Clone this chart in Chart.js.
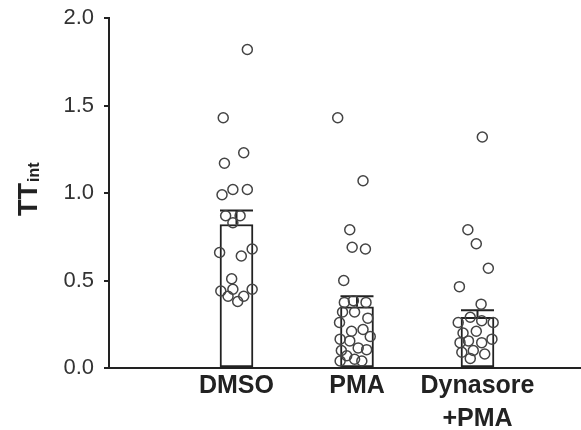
<!DOCTYPE html>
<html lang="en">
<head>
  <meta charset="UTF-8">
  <title>TT int</title>
  <script src="https://cdn.jsdelivr.net/npm/chart.js"></script>
  <style>
    html, body { margin: 0; padding: 0; background: #fff; overflow: hidden; }
    canvas { display: block; }
  </style>
</head>
<body>
  <canvas id="ttChart" width="581" height="430"></canvas>

  <script>
    // categories and bar values
    const groups = [['DMSO'], ['PMA'], ['Dynasore', '+PMA']];
    const means = [0.82, 0.35, 0.29];
    const errors = [0.08, 0.06, 0.04];
    const yTicks = [0, 0.5, 1.0, 1.5, 2.0];

    // individual points: offset from group centre, value
    const dmsoX = [0.09, -0.11, 0.06, -0.10, -0.12, -0.03, 0.09, -0.09, 0.03, -0.03, -0.14, 0.13, 0.04, -0.04, -0.03, -0.13, 0.13, -0.07, 0.06, 0.01];
    const dmsoY = [1.82, 1.43, 1.23, 1.17, 0.99, 1.02, 1.02, 0.87, 0.87, 0.83, 0.66, 0.68, 0.64, 0.51, 0.45, 0.44, 0.45, 0.41, 0.41, 0.38];
    const pmaX = [-0.16, 0.05, -0.06, -0.04, 0.07, -0.11, -0.105, -0.03, 0.075, -0.12, -0.02, 0.09, -0.145, -0.045, 0.05, 0.11, -0.14, -0.06, 0.01, -0.13, 0.08, -0.085, -0.02, -0.14, 0.04];
    const pmaY = [1.43, 1.07, 0.79, 0.69, 0.68, 0.50, 0.375, 0.385, 0.375, 0.32, 0.32, 0.285, 0.26, 0.21, 0.22, 0.18, 0.165, 0.155, 0.115, 0.10, 0.105, 0.07, 0.05, 0.04, 0.04];
    const dynX = [0.04, -0.08, -0.01, 0.09, -0.15, 0.03, -0.06, -0.16, 0.035, 0.13, -0.12, -0.01, 0.12, -0.075, 0.035, -0.13, -0.035, 0.06, -0.06, -0.145];
    const dynY = [1.32, 0.79, 0.71, 0.57, 0.465, 0.365, 0.29, 0.26, 0.27, 0.26, 0.20, 0.21, 0.165, 0.155, 0.145, 0.09, 0.10, 0.08, 0.055, 0.145];

    const fontFamily = '"Liberation Sans", Arial, Helvetica, sans-serif';

    const points = [];
    [[dmsoX, dmsoY], [pmaX, pmaY], [dynX, dynY]].forEach(([xs, ys], g) => {
      xs.forEach((dx, i) => points.push({ x: g + 1 + dx, y: ys[i] }));
    });

    // error bars (upper only) drawn right after the bars
    const errorBars = {
      id: 'errorBars',
      afterDatasetDraw(chart, args) {
        if (args.index !== 0) return;
        const { ctx, scales: { x, y } } = chart;
        ctx.save();
        ctx.strokeStyle = '#222';
        ctx.lineWidth = 2;
        means.forEach((m, i) => {
          const px = x.getPixelForValue(i + 1);
          const y0 = y.getPixelForValue(m);
          const y1 = y.getPixelForValue(m + errors[i]);
          ctx.beginPath();
          ctx.moveTo(px, y0);
          ctx.lineTo(px, y1);
          ctx.moveTo(px - 16.5, y1);
          ctx.lineTo(px + 16.5, y1);
          ctx.stroke();
        });
        ctx.restore();
      }
    };

    // y title with subscript, and the x axis line carried to the edge
    const yTitle = {
      id: 'yTitle',
      afterDraw(chart) {
        const ctx = chart.ctx;
        const a = chart.chartArea;
        ctx.save();
        ctx.strokeStyle = '#222';
        ctx.lineWidth = 2;
        ctx.beginPath();
        ctx.moveTo(a.right - 1, a.bottom);
        ctx.lineTo(chart.width, a.bottom);
        ctx.stroke();
        ctx.restore();

        ctx.save();
        ctx.translate(37, 216);
        ctx.rotate(-Math.PI / 2);
        ctx.fillStyle = '#222';
        ctx.textBaseline = 'alphabetic';
        ctx.textAlign = 'left';
        ctx.font = 'bold 27px ' + fontFamily;
        ctx.fillText('TT', 0, 0);
        const w = ctx.measureText('TT').width;
        ctx.font = 'bold 16px ' + fontFamily;
        ctx.fillText('int', w + 1, 2);
        ctx.restore();
      }
    };

    new Chart(document.getElementById('ttChart'), {
      type: 'bar',
      data: {
        datasets: [{
          data: means.map((m, i) => ({ x: i + 1, y: m })),
          backgroundColor: '#fff',
          borderColor: '#222',
          borderWidth: 2,
          borderSkipped: false,
          barThickness: 33,
          order: 2
        }, {
          type: 'line',
          data: points,
          showLine: false,
          pointRadius: 5,
          pointBorderWidth: 1.5,
          pointBorderColor: '#444',
          pointBackgroundColor: 'rgba(0,0,0,0)',
          order: 1
        }]
      },
      options: {
        responsive: false,
        animation: false,
        layout: { padding: { top: 18, right: 0, left: 0, bottom: 0 } },
        plugins: { legend: { display: false }, tooltip: { enabled: false } },
        scales: {
          x: {
            type: 'linear',
            min: -0.058,
            max: 3.805,
            offset: false,
            afterBuildTicks: axis => { axis.ticks = [1, 2, 3].map(v => ({ value: v })); },
            afterFit: axis => {
              axis.height = 62;
              axis.paddingLeft = 0;
              axis.paddingRight = 0;
            },
            grid: { display: false, offset: false },
            border: { display: true, color: '#222', width: 2 },
            ticks: {
              autoSkip: false,
              maxRotation: 0,
              padding: -6,
              color: '#222',
              font: { family: fontFamily, size: 25, weight: 'bold', lineHeight: 1.3 },
              callback: v => groups[v - 1] || ''
            }
          },
          y: {
            min: 0,
            max: 2,
            afterBuildTicks: axis => { axis.ticks = yTicks.map(v => ({ value: v })); },
            afterFit: axis => {
              axis.width = 109;
              axis.paddingTop = 0;
              axis.paddingBottom = 0;
            },
            grid: { drawOnChartArea: false, drawTicks: true, tickLength: 5, color: '#222', lineWidth: 2 },
            border: { display: true, color: '#222', width: 2 },
            ticks: {
              padding: 10,
              color: '#333',
              font: { family: fontFamily, size: 22 },
              callback: v => v.toFixed(1)
            }
          }
        }
      },
      plugins: [errorBars, yTitle]
    });
  </script>
</body>
</html>
